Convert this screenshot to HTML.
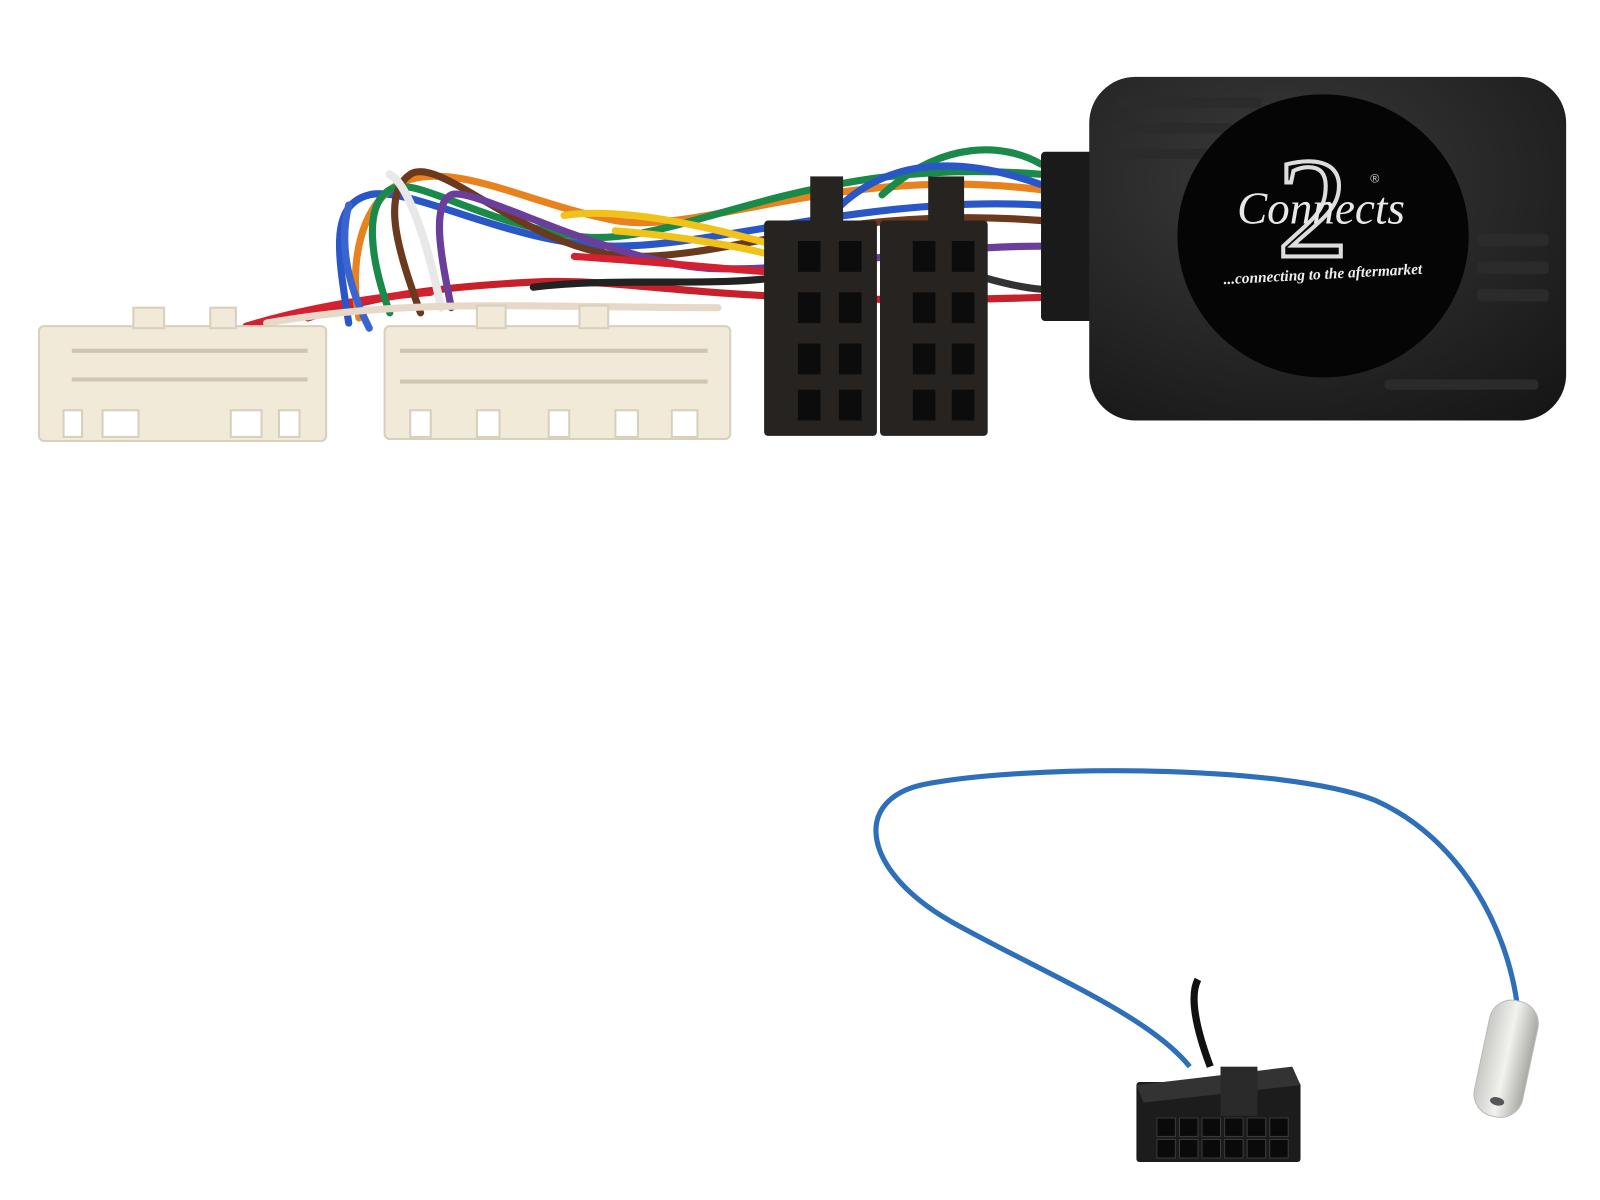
<!DOCTYPE html>
<html><head><meta charset="utf-8"><style>html,body{margin:0;padding:0;background:#fff}svg{display:block}</style></head>
<body>
<svg width="1600" height="1200" viewBox="0 0 1560 1170" xmlns="http://www.w3.org/2000/svg">
<defs>
<linearGradient id="ant" x1="0" x2="1"><stop offset="0" stop-color="#c8c8c4"/><stop offset=".5" stop-color="#f2f2ee"/><stop offset="1" stop-color="#a9a9a4"/></linearGradient>
<radialGradient id="box" cx=".4" cy=".3" r=".9"><stop offset="0" stop-color="#3a3a3a"/><stop offset="1" stop-color="#151515"/></radialGradient>
</defs>
<rect width="1560" height="1170" fill="#fff"/>
<g fill="none" stroke-width="7" stroke-linecap="round">
<path d="M300 310 C360 290 420 280 520 275 S700 300 1015 290" stroke="#c8202a"/>
<path d="M240 318 C300 300 360 290 420 285" stroke="#d42030"/>
<path d="M340 315 C330 250 320 200 360 190 S500 240 600 240 S850 190 1015 200" stroke="#2a57c8"/>
<path d="M350 310 C340 260 350 190 400 175 S520 200 600 215 S820 160 1015 185" stroke="#e8821e"/>
<path d="M380 305 C360 250 355 200 380 185 S460 215 560 230 S780 150 1015 170" stroke="#1a8a4a"/>
<path d="M410 305 C390 250 370 190 400 170 S520 250 620 250 S820 200 1015 215" stroke="#6b3a1e"/>
<path d="M430 300 C420 250 400 180 380 170" stroke="#e8e8e8" stroke-width="8"/>
<path d="M440 300 C430 250 420 200 440 190 S600 260 700 262 S900 240 1015 240" stroke="#6a3e9a"/>
<path d="M360 320 C340 280 330 240 340 200" stroke="#3a64d0"/>
<path d="M550 210 C620 200 720 230 760 240" stroke="#f0c21a"/>
<path d="M520 280 C600 270 700 280 760 270" stroke="#222"/>
<path d="M260 315 C400 290 520 300 700 300" stroke="#e8d8c8"/>
<path d="M860 190 C920 135 980 140 1015 160" stroke="#1a8a4a"/>
<path d="M820 200 C880 145 960 160 1015 180" stroke="#2a57c8"/>
<path d="M900 250 C950 270 990 280 1015 282" stroke="#333"/>
<path d="M560 250 C640 255 700 262 750 265" stroke="#d42030"/>
<path d="M600 225 C660 230 720 240 750 248" stroke="#f0c21a"/>
</g>
<rect x="1015" y="148" width="62" height="165" rx="4" fill="#1a1a1a"/>
<rect x="1062" y="75" width="465" height="335" rx="45" fill="url(#box)"/>
<g fill="#2b2b2b">
<rect x="1090" y="95" width="140" height="10" rx="4"/><rect x="1082" y="120" width="120" height="10" rx="4"/><rect x="1082" y="145" width="100" height="10" rx="4"/>
<rect x="1440" y="228" width="70" height="12" rx="4"/><rect x="1440" y="255" width="70" height="12" rx="4"/><rect x="1440" y="282" width="70" height="12" rx="4"/>
<rect x="1350" y="370" width="150" height="10" rx="4"/>
</g>
<ellipse cx="1290" cy="230" rx="142" ry="138" fill="#050505"/>
<text x="1280" y="250" font-family="Liberation Serif, serif" font-size="140" fill="none" stroke="#ddd" stroke-width="4" text-anchor="middle">2</text>
<text x="1288" y="218" font-family="Liberation Serif, serif" font-style="italic" font-size="44" fill="#e8e8e8" text-anchor="middle">Connects</text>
<text x="1290" y="272" font-family="Liberation Serif, serif" font-style="italic" font-weight="bold" font-size="15" fill="#eee" text-anchor="middle" transform="rotate(-3 1290 272)">...connecting to the aftermarket</text>
<text x="1336" y="178" font-family="Liberation Sans, sans-serif" font-size="12" fill="#ccc">®</text>
<g fill="#f1ead9" stroke="#d8cfbd" stroke-width="2">
<rect x="38" y="318" width="280" height="112" rx="5"/>
<rect x="375" y="318" width="337" height="110" rx="5"/>
<rect x="130" y="300" width="30" height="20"/><rect x="205" y="300" width="25" height="20"/>
<rect x="465" y="298" width="28" height="22"/><rect x="565" y="298" width="28" height="22"/>
</g>
<g fill="#fff" stroke="#d8cfbd" stroke-width="2">
<rect x="62" y="400" width="18" height="26"/><rect x="100" y="400" width="35" height="26"/><rect x="225" y="400" width="30" height="26"/><rect x="272" y="400" width="20" height="26"/>
<rect x="400" y="400" width="20" height="26"/><rect x="465" y="400" width="22" height="26"/><rect x="535" y="400" width="20" height="26"/><rect x="600" y="400" width="22" height="26"/><rect x="655" y="400" width="25" height="26"/>
</g>
<g fill="#cfc6b2">
<rect x="70" y="340" width="230" height="4"/><rect x="70" y="368" width="230" height="4"/>
<rect x="390" y="340" width="300" height="4"/><rect x="390" y="370" width="300" height="4"/>
</g>
<g fill="#262321">
<rect x="745" y="215" width="110" height="210" rx="4"/><rect x="858" y="215" width="105" height="210" rx="4"/>
<rect x="790" y="172" width="32" height="48"/><rect x="905" y="172" width="35" height="48"/>
</g>
<g fill="#0c0c0c">
<rect x="778" y="235" width="22" height="30"/><rect x="818" y="235" width="22" height="30"/><rect x="890" y="235" width="22" height="30"/><rect x="928" y="235" width="22" height="30"/>
<rect x="778" y="285" width="22" height="30"/><rect x="818" y="285" width="22" height="30"/><rect x="890" y="285" width="22" height="30"/><rect x="928" y="285" width="22" height="30"/>
<rect x="778" y="335" width="22" height="30"/><rect x="818" y="335" width="22" height="30"/><rect x="890" y="335" width="22" height="30"/><rect x="928" y="335" width="22" height="30"/>
<rect x="778" y="380" width="22" height="30"/><rect x="818" y="380" width="22" height="30"/><rect x="890" y="380" width="22" height="30"/><rect x="928" y="380" width="22" height="30"/>
</g>
<path d="M1160 1040 C1120 990 1020 950 930 900 C840 850 830 780 900 765 C1000 745 1250 745 1340 780 C1420 815 1470 900 1480 985" fill="none" stroke="#2d6fb8" stroke-width="5"/>
<path d="M1180 1040 C1165 1000 1160 970 1168 955" fill="none" stroke="#111" stroke-width="7"/>
<g transform="rotate(12 1470 1030)"><rect x="1445" y="975" width="48" height="115" rx="22" fill="url(#ant)" stroke="#bbb"/><ellipse cx="1469" cy="1075" rx="7" ry="4" fill="#555"/></g>
<rect x="1108" y="1055" width="160" height="78" rx="3" fill="#1c1c1c"/>
<polygon points="1108,1058 1260,1040 1268,1058 1115,1075" fill="#333"/>
<rect x="1190" y="1040" width="36" height="48" fill="#2a2a2a"/>
<g fill="#0a0a0a" stroke="#3a3a3a">
<rect x="1128" y="1090" width="18" height="18"/><rect x="1150" y="1090" width="18" height="18"/><rect x="1172" y="1090" width="18" height="18"/><rect x="1194" y="1090" width="18" height="18"/><rect x="1216" y="1090" width="18" height="18"/><rect x="1238" y="1090" width="18" height="18"/>
<rect x="1128" y="1111" width="18" height="18"/><rect x="1150" y="1111" width="18" height="18"/><rect x="1172" y="1111" width="18" height="18"/><rect x="1194" y="1111" width="18" height="18"/><rect x="1216" y="1111" width="18" height="18"/><rect x="1238" y="1111" width="18" height="18"/>
</g>
</svg>
</body></html>
